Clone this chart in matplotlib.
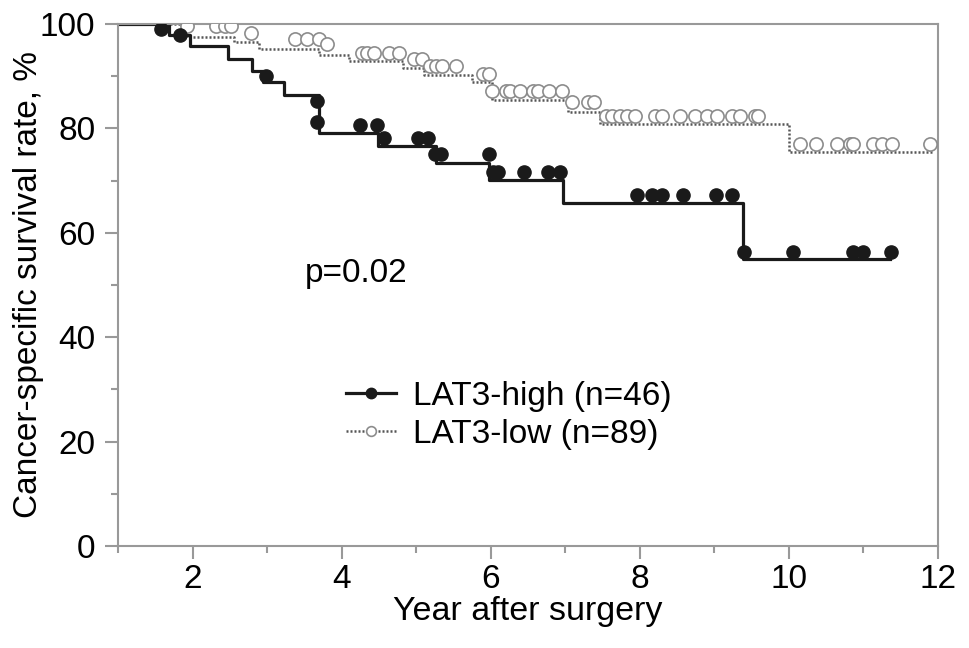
import matplotlib
matplotlib.use("Agg")
import matplotlib.pyplot as plt
from matplotlib.lines import Line2D

# Kaplan-Meier step curves: time of each drop and survival (%) after it
high_t = [1.0, 1.68, 1.96, 2.48, 2.80, 2.94, 3.22, 3.69, 4.49, 5.26, 5.97, 6.97, 9.39, 11.35]
high_s = [100, 97.9, 95.7, 93.3, 91.0, 88.8, 86.3, 79.1, 76.6, 73.3, 70.2, 65.7, 54.9, 54.9]
low_t = [1.0, 1.93, 2.56, 2.89, 3.69, 4.10, 4.82, 5.11, 5.75, 6.02, 7.03, 7.47, 10.0, 11.92]
low_s = [100, 97.6, 96.6, 95.3, 94.1, 92.9, 91.5, 90.2, 88.8, 85.5, 83.1, 80.9, 75.4, 75.4]

# censored cases
high_cx = [1.57, 1.83, 2.98, 3.67, 3.67, 4.24, 4.48, 4.57, 5.02, 5.16, 5.25, 5.33, 5.97,
           6.03, 6.10, 6.45, 6.77, 6.93, 7.96, 8.17, 8.30, 8.58, 9.02, 9.23,
           9.40, 10.06, 10.86, 11.00, 11.37]
high_cy = [99.0, 97.9, 90.1, 85.3, 81.3, 80.6, 80.6, 78.1, 78.1, 78.1, 75.0, 75.0, 75.0,
           71.6, 71.6, 71.6, 71.6, 71.6, 67.2, 67.2, 67.2, 67.2, 67.2, 67.2,
           56.3, 56.3, 56.3, 56.3, 56.3]
low_cx = [1.93, 2.31, 2.44, 2.52, 2.78, 3.38, 3.54, 3.69, 3.81, 4.27, 4.34, 4.43, 4.63, 4.77,
          4.97, 5.08, 5.19, 5.26, 5.35, 5.53, 5.89, 5.97,
          6.02, 6.20, 6.26, 6.39, 6.57, 6.64, 6.78, 6.96, 7.09, 7.31, 7.38,
          7.54, 7.63, 7.74, 7.83, 7.94, 8.21, 8.30, 8.54, 8.74, 8.90, 9.03, 9.23, 9.34, 9.55, 9.59,
          10.15, 10.37, 10.64, 10.82, 10.86, 11.13, 11.25, 11.38, 11.89]
low_cy = [99.6, 99.6, 99.6, 99.6, 98.3, 97.1, 97.1, 97.1, 96.1, 94.5, 94.5, 94.5, 94.5, 94.5,
          93.3, 93.3, 92.0, 92.0, 92.0, 92.0, 90.4, 90.4,
          87.2, 87.2, 87.2, 87.2, 87.2, 87.2, 87.2, 87.2, 85.0, 85.0, 85.0,
          82.4, 82.4, 82.4, 82.4, 82.4, 82.4, 82.4, 82.4, 82.4, 82.4, 82.4, 82.4, 82.4, 82.4, 82.4,
          77.1, 77.1, 77.1, 77.1, 77.1, 77.1, 77.1, 77.1, 77.1]

labels = ['LAT3-high (n=46)', 'LAT3-low (n=89)']
p_text = 'p=0.02'

plt.rcParams['font.family'] = ['Liberation Sans', 'DejaVu Sans']

grey = '#999999'
high_col = '#1a1a1a'
low_col = '#555555'

fig = plt.figure(figsize=(9.69, 6.48), dpi=100)
ax = fig.add_axes([0.1218, 0.1574, 0.8462, 0.8056])

ax.step(low_t, low_s, where='post', color=low_col, lw=1.8, linestyle=(0, (0.8, 0.8)), zorder=2)
ax.step(high_t, high_s, where='post', color=high_col, lw=2.3, zorder=2)
ax.plot(low_cx, low_cy, 'o', ms=9.5, mfc='white', mec='#8c8c8c', mew=1.2, zorder=3)
ax.plot(high_cx, high_cy, 'o', ms=9.5, mfc=high_col, mec=high_col, zorder=4)

ax.set_xlim(1, 12)
ax.set_ylim(0, 100)
ax.set_xticks([2, 4, 6, 8, 10, 12])
ax.set_xticks([1, 3, 5, 7, 9, 11], minor=True)
ax.set_yticks([0, 20, 40, 60, 80, 100])
ax.set_yticks([10, 30, 50, 70, 90], minor=True)

for s in ax.spines.values():
    s.set_color(grey)
    s.set_linewidth(1.5)
ax.tick_params(which='major', length=9.4, width=1.5, color=grey, labelsize=24)
ax.tick_params(which='minor', length=5, width=1.5, color=grey)
ax.tick_params(axis='x', which='major', pad=3.5)
ax.tick_params(axis='y', which='major', pad=7)

ax.set_xlabel('Year after surgery', fontsize=24.5, labelpad=1)
ax.set_ylabel('Cancer-specific survival rate, %', fontsize=24)
ax.yaxis.set_label_coords(-0.09, 0.5)

ax.text(3.51, 50.6, p_text, fontsize=24, va='baseline', ha='left')

handles = [
    Line2D([], [], color=high_col, lw=2.3, marker='o', ms=7.5, mfc=high_col, mec=high_col),
    Line2D([], [], color=low_col, lw=1.8, linestyle=(0, (0.8, 0.8)), marker='o', ms=7,
           mfc='white', mec='#8c8c8c', mew=1.2),
]
ax.legend(handles, labels, loc='upper left', bbox_to_anchor=(0.278, 0.316), frameon=False,
          fontsize=24, handlelength=1.5, handletextpad=0.5, labelspacing=0.2,
          borderpad=0, borderaxespad=0)

fig.savefig('out.png', dpi=100)
